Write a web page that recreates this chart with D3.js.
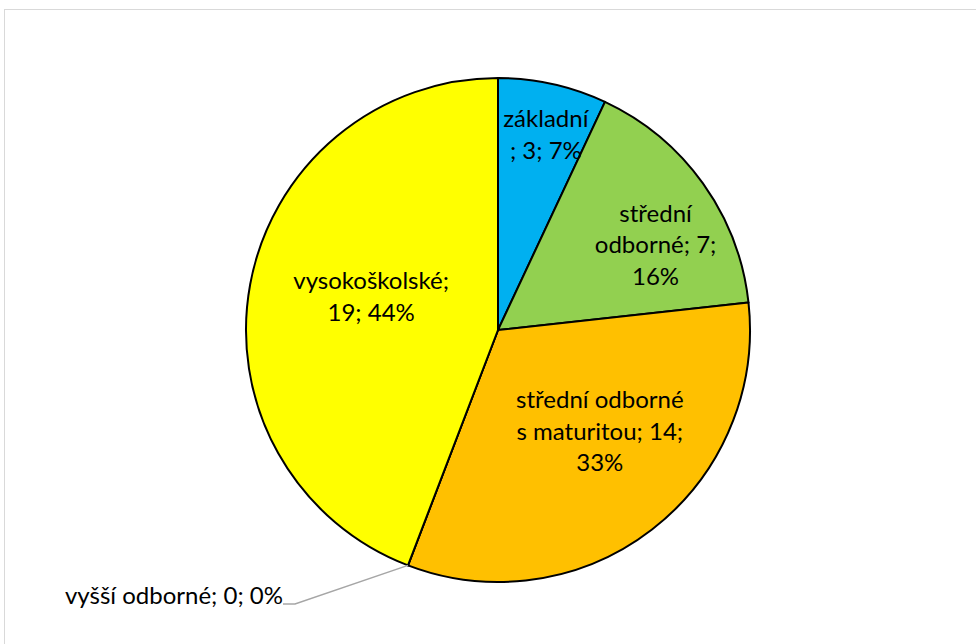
<!DOCTYPE html>
<html>
<head>
<meta charset="utf-8">
<script src="https://cdn.jsdelivr.net/npm/d3@7"></script>
<style>
  body { margin: 0; background: #fff; }
  text { font-family: Lato, "Open Sans", sans-serif; font-size: 24px; fill: #000; }
</style>
</head>
<body>
<script>
// education levels, clockwise from the top
var categories = ["základní", "střední odborné", "střední odborné s maturitou", "vyšší odborné", "vysokoškolské"];
var values = [3, 7, 14, 0, 19];
var colors = ["#00B0F0", "#92D050", "#FFC000", "#A5A5A5", "#FFFF00"];
// where Excel wrapped each label (character positions in "name; value; pct%")
var breaks = [[8], [7, 19], [15, 32], [], [14]];

var width = 976, height = 644,
	cx = 498, cy = 330, radius = 252;

var total = d3.sum(values);

var svg = d3.select("body").append("svg")
	.attr("width", width)
	.attr("height", height);

svg.append("rect")
	.attr("x", 4.5).attr("y", 9.5)
	.attr("width", 1000).attr("height", 700)
	.attr("fill", "#fff")
	.attr("stroke", "#d9d9d9")
	.attr("stroke-width", 1);

var pie = d3.pie().sort(null).value(d => d.value);
var arc = d3.arc().innerRadius(0).outerRadius(radius);

var data = categories.map((c, i) => ({name: c, value: values[i], color: colors[i], breaks: breaks[i]}));
var arcs = pie(data);

var g = svg.append("g")
	.attr("transform", "translate(" + cx + "," + cy + ")");

g.selectAll("path")
	.data(arcs)
	.enter().append("path")
	.attr("d", arc)
	.attr("fill", d => d.data.color)
	.attr("stroke", "#000")
	.attr("stroke-width", 2)
	.attr("stroke-linejoin", "round");

// label radius (fraction of radius) and nudges, roughly where Excel put them
var labelR = [0.8, 0.72, 0.57, 1, 0.52];
var nudge = [[4, 2], [10, 21], [14, -12], [0, 0], [2, -9]];

function labelText(d) {
	var pct = Math.round(d.value / total * 100);
	var s = d.data.name + "; " + d.value + "; " + pct + "%";
	var lines = [], start = 0;
	d.data.breaks.forEach(b => { lines.push(s.slice(start, b).trim()); start = b; });
	lines.push(s.slice(start).trim());
	return lines;
}

var lineH = 31.5;

arcs.forEach(function(d, i) {
	var lines = labelText(d);
	if (d.value === 0) {
		// zero slice: label outside with leader line
		var a = d.startAngle;
		var px = Math.sin(a) * radius, py = -Math.cos(a) * radius;
		var ex = 295 - cx, ey = 604 - cy;
		g.append("polyline")
			.attr("points", [[px, py], [ex, ey], [ex - 12, ey]].map(p => p.join(",")).join(" "))
			.attr("fill", "none")
			.attr("stroke", "#a6a6a6")
			.attr("stroke-width", 1.5);
		g.append("text")
			.attr("x", ex - 12).attr("y", ey)
			.attr("text-anchor", "end")
			.text(lines[0]);
		return;
	}
	var la = (d.startAngle + d.endAngle) / 2;
	var r = radius * labelR[i];
	var x = Math.sin(la) * r + nudge[i][0],
		y = -Math.cos(la) * r + nudge[i][1];
	var t = g.append("text")
		.attr("text-anchor", "middle")
		.attr("transform", "translate(" + x + "," + y + ")");
	lines.forEach(function(l, j) {
		t.append("tspan")
			.attr("x", 0)
			.attr("y", (j - (lines.length - 1) / 2) * lineH + 8)
			.text(l);
	});
});
</script>
</body>
</html>
